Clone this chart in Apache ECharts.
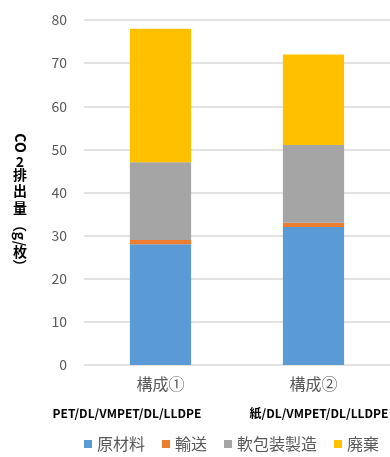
<!DOCTYPE html>
<html>
<head>
<meta charset="utf-8">
<script src="https://cdn.jsdelivr.net/npm/echarts@6/dist/echarts.min.js"></script>
<style>
  html, body { margin: 0; padding: 0; background: #fff; }
  #chart { width: 390px; height: 457px; }
</style>
</head>
<body>
<div id="chart"></div>
<script>
// CO2 emissions per sheet, by life-cycle stage, for two packaging structures
const categories = ['構成①', '構成②'];
const structures = ['PET/DL/VMPET/DL/LLDPE', '紙/DL/VMPET/DL/LLDPE'];
const seriesNames = ['原材料', '輸送', '軟包装製造', '廃棄'];
const rawMaterial = [28, 32];
const transport = [1, 1];
const manufacturing = [18, 18];
const disposal = [31, 21];
const yTicks = [0, 10, 20, 30, 40, 50, 60, 70, 80];

const colors = ['#5B9BD5', '#ED7D31', '#A5A5A5', '#FFC000'];
const FONT = '"Noto Sans CJK JP", "Noto Sans", sans-serif';

const chart = echarts.init(document.getElementById('chart'));

// vertical axis title, written top to bottom (Latin parts turned sideways)
const titleParts = [
  { t: 'CO', y: 143, rot: true },
  { t: '2', y: 162, rot: false },
  { t: '排', y: 175, rot: false },
  { t: '出', y: 191, rot: false },
  { t: '量', y: 208, rot: false },
  { t: '（', y: 225, rot: true },
  { t: 'g/', y: 239, rot: true },
  { t: '枚', y: 252, rot: false },
  { t: '）', y: 266, rot: true }
];
const titleX = 20;
const titleGraphics = titleParts.map(p => ({
  type: 'text',
  x: titleX,
  y: p.y,
  rotation: p.rot ? -Math.PI / 2 : 0,
  style: {
    text: p.t,
    font: 'bold 14px ' + FONT,
    fill: '#000',
    align: 'center',
    verticalAlign: 'middle'
  }
}));

const stacks = [rawMaterial, transport, manufacturing, disposal];

chart.setOption({
  animation: false,
  color: colors,
  textStyle: { fontFamily: FONT },
  grid: { left: 84, right: -4, top: 20, bottom: 92, containLabel: false },
  xAxis: {
    type: 'category',
    data: categories,
    axisLine: { show: false },
    axisTick: { show: false },
    axisLabel: { color: '#595959', fontSize: 16, margin: 11, fontFamily: FONT }
  },
  yAxis: {
    type: 'value',
    min: yTicks[0],
    max: yTicks[yTicks.length - 1],
    interval: 10,
    axisLine: { show: false },
    axisTick: { show: false },
    axisLabel: { color: '#595959', fontSize: 14, margin: 17, fontFamily: FONT },
    splitLine: { lineStyle: { color: '#d9d9d9', width: 1.5 } }
  },
  legend: {
    data: seriesNames,
    left: 79,
    top: 431,
    icon: 'rect',
    itemWidth: 8,
    itemHeight: 8,
    itemGap: 17,
    textStyle: { color: '#595959', fontSize: 16, fontFamily: FONT, padding: [0, 0, 0, 0] }
  },
  series: seriesNames.map((name, i) => ({
    name,
    type: 'bar',
    stack: 'total',
    barWidth: '40%',
    data: stacks[i]
  })),
  graphic: titleGraphics.concat([
    {
      type: 'text', x: 127, y: 413,
      style: { text: structures[0], font: '600 12px ' + FONT, fill: '#000', align: 'center', verticalAlign: 'middle' }
    },
    {
      type: 'text', x: 319, y: 413,
      style: { text: structures[1], font: '600 12px ' + FONT, fill: '#000', align: 'center', verticalAlign: 'middle' }
    }
  ])
});
</script>
</body>
</html>
